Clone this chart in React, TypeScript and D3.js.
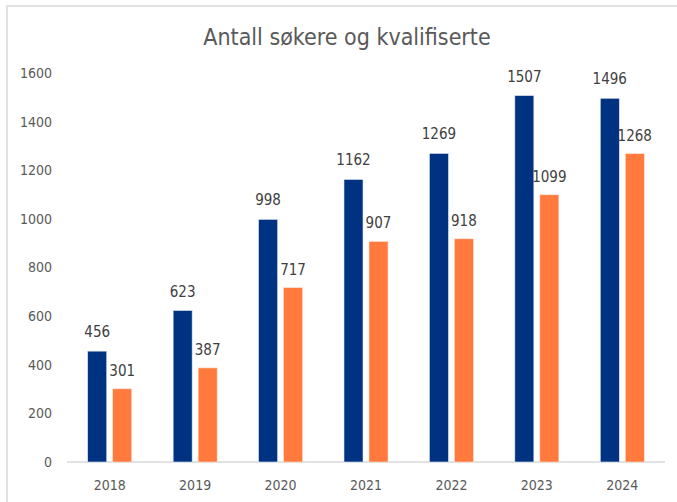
import React from 'react';
import * as d3 from 'd3';

const years = ['2018', '2019', '2020', '2021', '2022', '2023', '2024'];
const sokere = [456, 623, 998, 1162, 1269, 1507, 1496];
const kvalifiserte = [301, 387, 717, 907, 918, 1099, 1268];
const yTicks = [0, 200, 400, 600, 800, 1000, 1200, 1400, 1600];

const W = 677;
const H = 502;
const margin = { top: 73, right: 12, bottom: 40, left: 67 };
const FONT = '"Liberation Sans Narrow", "DejaVu Sans Condensed", Lato, sans-serif';

export default function App() {
  const x = d3.scaleBand<string>()
    .domain(years)
    .range([margin.left, W - margin.right])
    .paddingInner(0)
    .paddingOuter(0);

  const y = d3.scaleLinear()
    .domain([0, 1600])
    .range([H - margin.bottom, margin.top]);

  const barW = 19;
  const gap = 6;

  return (
    <svg width={W} height={H} style={{ position: 'absolute', left: 0, top: 0, background: '#fff' }}>
      <rect x={7} y={6} width={W} height={H} fill="none" stroke="#d9d9d9" strokeWidth={1.5} />
      <text x={347} y={45} textAnchor="middle" fontFamily={FONT} fontSize={23} fill="#595959">
        Antall søkere og kvalifiserte
      </text>

      {yTicks.map(t => (
        <text key={t} x={52} y={y(t)} dy="0.35em" textAnchor="end" fontFamily={FONT} fontSize={14} fill="#595959">
          {t}
        </text>
      ))}

      <line x1={margin.left} x2={W - margin.right} y1={y(0)} y2={y(0)} stroke="#d9d9d9" strokeWidth={1.5} />

      {years.map((yr, i) => {
        const c = (x(yr) ?? 0) + x.bandwidth() / 2;
        const bx = c - gap / 2 - barW;
        const ox = c + gap / 2;
        return (
          <g key={yr}>
            <rect x={bx} y={y(sokere[i])} width={barW} height={y(0) - y(sokere[i])} fill="#003282" stroke="#dbe3f0" strokeWidth={0.6} />
            <rect x={ox} y={y(kvalifiserte[i])} width={barW} height={y(0) - y(kvalifiserte[i])} fill="#ff7a3c" stroke="#fde1d2" strokeWidth={0.6} />
            <text x={bx + barW / 2} y={y(sokere[i]) - 14} textAnchor="middle" fontFamily={FONT} fontSize={15} fill="#404040">
              {sokere[i]}
            </text>
            <text x={ox + barW / 2} y={y(kvalifiserte[i]) - 13} textAnchor="middle" fontFamily={FONT} fontSize={15} fill="#404040">
              {kvalifiserte[i]}
            </text>
            <text x={c} y={y(0) + 23} dy="0.35em" textAnchor="middle" fontFamily={FONT} fontSize={14} fill="#595959">
              {yr}
            </text>
          </g>
        );
      })}
    </svg>
  );
}
